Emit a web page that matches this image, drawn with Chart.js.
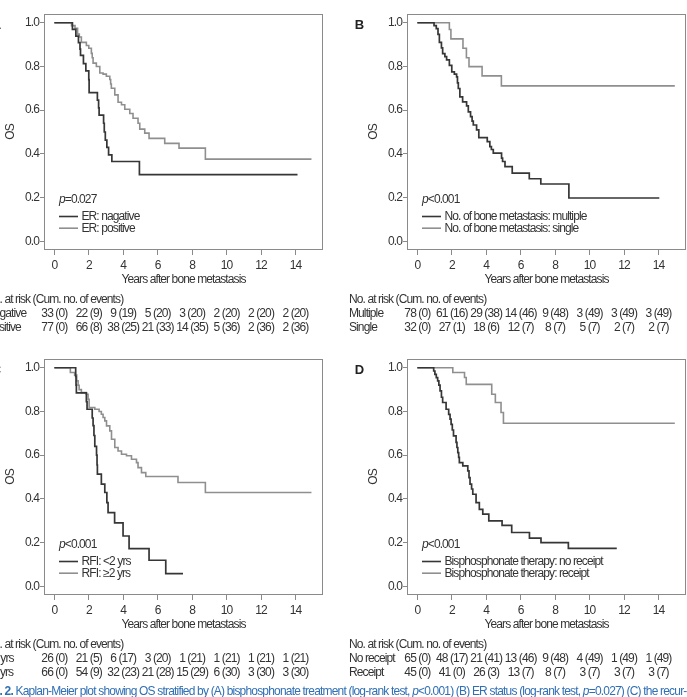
<!DOCTYPE html>
<html><head><meta charset="utf-8">
<script src="https://cdn.jsdelivr.net/npm/chart.js@4.4.0/dist/chart.umd.min.js"></script>
<style>
html,body{margin:0;padding:0;background:#fff;}
body{width:687px;height:697px;position:relative;overflow:hidden;}
canvas.panel{position:absolute;}
#caption{position:absolute;top:684px;left:0;white-space:nowrap;color:#2f6fb5;font-family:"Liberation Sans",Arial,sans-serif;font-size:12px;line-height:14px;letter-spacing:-0.8px;}
</style></head><body>
<canvas id="cA" class="panel" width="363" height="345" style="left:-20px;top:0px"></canvas>
<canvas id="cB" class="panel" width="363" height="345" style="left:343px;top:0px"></canvas>
<canvas id="cC" class="panel" width="363" height="345" style="left:-20px;top:345px"></canvas>
<canvas id="cD" class="panel" width="363" height="345" style="left:343px;top:345px"></canvas>
<div id="caption"><b><span id="capHide">Fig. </span>2.</b> Kaplan-Meier plot showing OS stratified by (A) bisphosphonate treatment (log-rank test, <i>p</i>&lt;0.001) (B) ER status (log-rank test, <i>p</i>=0.027) (C) the recur-</div>
<script>
// ---------- data ----------
const xTickValues = [0, 2, 4, 6, 8, 10, 12, 14];
const yTickValues = [0, 0.2, 0.4, 0.6, 0.8, 1.0];

// Panel A: ER status
const erNegTime = [0, 1.05, 1.25, 1.4, 1.49, 1.52, 1.69, 1.83, 2.0, 2.02, 2.5, 2.57, 2.6, 2.86, 2.9, 2.96, 3.05, 3.15, 3.34, 4.94, 14.12];
const erNegSurv = [1, 0.970, 0.939, 0.909, 0.879, 0.851, 0.813, 0.780, 0.74, 0.68, 0.646, 0.61, 0.577, 0.54, 0.50, 0.463, 0.43, 0.395, 0.365, 0.305, 0.305];
const erPosTime = [0, 1.0, 1.2, 1.35, 1.45, 1.57, 1.86, 2.0, 2.15, 2.2, 2.25, 2.44, 2.64, 2.83, 3.02, 3.22, 3.27, 3.31, 3.51, 3.7, 3.9, 4.09, 4.38, 4.57, 4.86, 4.96, 5.25, 5.5, 6.41, 7.24, 8.77, 14.93];
const erPosSurv = [1, 0.987, 0.974, 0.948, 0.935, 0.91, 0.896, 0.883, 0.86, 0.84, 0.815, 0.80, 0.77, 0.765, 0.755, 0.74, 0.72, 0.70, 0.67, 0.636, 0.625, 0.604, 0.585, 0.563, 0.54, 0.513, 0.495, 0.471, 0.448, 0.426, 0.376, 0.376];
const erNegRisk = ["33 (0)", "22 (9)", "9 (19)", "5 (20)", "3 (20)", "2 (20)", "2 (20)", "2 (20)"];
const erPosRisk = ["77 (0)", "66 (8)", "38 (25)", "21 (33)", "14 (35)", "5 (36)", "2 (36)", "2 (36)"];

// Panel B: number of bone metastases
const multTime = [0, 0.97, 1.1, 1.2, 1.28, 1.4, 1.47, 1.6, 1.7, 1.86, 2.0, 2.15, 2.28, 2.33, 2.38, 2.47, 2.63, 2.86, 2.96, 3.09, 3.18, 3.25, 3.44, 3.57, 4.06, 4.21, 4.3, 4.41, 4.89, 4.95, 5.09, 5.51, 6.5, 7.17, 8.8, 14.05];
const multSurv = [1, 0.987, 0.973, 0.947, 0.91, 0.885, 0.859, 0.845, 0.83, 0.805, 0.775, 0.765, 0.752, 0.725, 0.699, 0.661, 0.638, 0.62, 0.592, 0.57, 0.55, 0.532, 0.51, 0.474, 0.456, 0.433, 0.42, 0.403, 0.38, 0.365, 0.342, 0.312, 0.286, 0.262, 0.198, 0.198];
const singTime = [0, 1.86, 1.95, 2.65, 2.85, 3.0, 3.76, 4.88, 14.95];
const singSurv = [1, 0.969, 0.926, 0.883, 0.84, 0.799, 0.757, 0.711, 0.711];
const multRisk = ["78 (0)", "61 (16)", "29 (38)", "14 (46)", "9 (48)", "3 (49)", "3 (49)", "3 (49)"];
const singRisk = ["32 (0)", "27 (1)", "18 (6)", "12 (7)", "8 (7)", "5 (7)", "2 (7)", "2 (7)"];

// Panel C: recurrence-free interval
const rfiShortTime = [0, 1.24, 1.26, 1.28, 1.86, 1.9, 2.2, 2.25, 2.3, 2.35, 2.45, 2.48, 2.5, 2.73, 2.93, 3.05, 3.12, 3.5, 3.99, 4.34, 5.5, 6.47, 7.47];
const rfiShortSurv = [1, 0.96, 0.92, 0.885, 0.845, 0.81, 0.77, 0.735, 0.69, 0.64, 0.6, 0.555, 0.513, 0.467, 0.429, 0.383, 0.337, 0.29, 0.23, 0.172, 0.119, 0.058, 0.058];
const rfiLongTime = [0, 0.93, 1.18, 1.3, 1.38, 1.44, 1.57, 1.86, 1.96, 2.02, 2.35, 2.6, 2.73, 2.83, 2.93, 3.03, 3.22, 3.32, 3.51, 3.7, 3.9, 4.19, 4.48, 4.77, 4.86, 5.06, 5.31, 7.18, 8.77, 14.93];
const rfiLongSurv = [1, 0.978, 0.966, 0.94, 0.92, 0.90, 0.886, 0.879, 0.856, 0.818, 0.81, 0.80, 0.787, 0.772, 0.757, 0.734, 0.711, 0.673, 0.635, 0.619, 0.604, 0.597, 0.581, 0.566, 0.543, 0.52, 0.502, 0.475, 0.429, 0.429];
const rfiShortRisk = ["26 (0)", "21 (5)", "6 (17)", "3 (20)", "1 (21)", "1 (21)", "1 (21)", "1 (21)"];
const rfiLongRisk = ["66 (0)", "54 (9)", "32 (23)", "21 (28)", "15 (29)", "6 (30)", "3 (30)", "3 (30)"];

// Panel D: bisphosphonate therapy
const noRecTime = [0, 0.95, 1.02, 1.1, 1.18, 1.25, 1.32, 1.4, 1.47, 1.67, 1.82, 1.9, 1.96, 2.03, 2.1, 2.25, 2.3, 2.35, 2.4, 2.44, 2.64, 2.93, 3.0, 3.06, 3.15, 3.22, 3.41, 3.6, 3.8, 4.15, 4.92, 5.48, 6.51, 7.18, 8.77, 11.58];
const noRecSurv = [1, 0.985, 0.97, 0.955, 0.94, 0.92, 0.894, 0.865, 0.841, 0.81, 0.787, 0.765, 0.741, 0.715, 0.688, 0.658, 0.635, 0.612, 0.59, 0.566, 0.551, 0.528, 0.497, 0.467, 0.445, 0.421, 0.383, 0.352, 0.33, 0.299, 0.279, 0.246, 0.22, 0.2, 0.173, 0.173];
const recTime = [0, 2.06, 2.74, 2.84, 4.32, 4.53, 4.86, 5.0, 14.95];
const recSurv = [1, 0.978, 0.955, 0.924, 0.879, 0.841, 0.795, 0.746, 0.746];
const noRecRisk = ["65 (0)", "48 (17)", "21 (41)", "13 (46)", "9 (48)", "4 (49)", "1 (49)", "1 (49)"];
const recRisk = ["45 (0)", "41 (0)", "26 (3)", "13 (7)", "8 (7)", "3 (7)", "3 (7)", "3 (7)"];

// ---------- styling ----------
const FAM = '"Liberation Sans", Arial, sans-serif';
const SPACING = '-0.9px';
const TXT = '#333333';
const FRAME = '#8a8a8a';
const DARK = '#363636';
const LIGHT = '#8f8f8f';
Chart.defaults.font.family = FAM;
Chart.defaults.font.size = 12;
Chart.defaults.color = TXT;

function km(times, surv) { return times.map((t, i) => ({ x: t, y: surv[i] })); }

function condense(chart) { if (chart.ctx) chart.ctx.letterSpacing = SPACING; }

const panelPlugin = {
  id: 'kmDecor',
  beforeInit: condense,
  beforeUpdate: condense,
  beforeLayout: condense,
  beforeDraw: condense,
  afterDraw(chart) {
    const cfg = chart.options.plugins.kmDecor;
    const { ctx, chartArea: ca, scales } = chart;
    const x = scales.x;
    ctx.save();
    ctx.letterSpacing = SPACING;
    // frame
    ctx.strokeStyle = FRAME; ctx.lineWidth = 1;
    ctx.strokeRect(Math.round(ca.left) + 0.5, Math.round(ca.top) + 0.5, Math.round(ca.right - ca.left) - 1, Math.round(ca.bottom - ca.top) - 1);
    // panel letter
    ctx.fillStyle = '#222';
    ctx.font = 'bold 13px ' + FAM;
    ctx.textBaseline = 'middle'; ctx.textAlign = 'center';
    ctx.fillText(cfg.letter, ca.left - 48, ca.top + 11);
    // p-value
    ctx.textAlign = 'left';
    ctx.fillStyle = TXT;
    const px = ca.left + 15, py = ca.top + 186;
    ctx.font = 'italic 12px ' + FAM;
    ctx.fillText('p', px, py);
    const pw = ctx.measureText('p').width;
    ctx.font = '12px ' + FAM;
    ctx.fillText(cfg.pText, px + pw, py);
    // legend
    const cols = [DARK, LIGHT];
    cfg.legend.forEach((lab, i) => {
      const ly = ca.top + 202.5 + i * 11.7;
      ctx.strokeStyle = cols[i]; ctx.lineWidth = 1.6;
      ctx.beginPath(); ctx.moveTo(ca.left + 15, ly); ctx.lineTo(ca.left + 34, ly); ctx.stroke();
      ctx.fillStyle = TXT;
      ctx.fillText(lab, ca.left + 37.5, ly);
    });
    // risk table
    ctx.fillStyle = TXT;
    ctx.font = '12px ' + FAM;
    const lx = ca.left - 58;
    ctx.textAlign = 'left';
    ctx.fillText('No. at risk (Cum. no. of events)', lx, ca.top + 285.5);
    cfg.risk.forEach((row, r) => {
      const ry = ca.top + 300 + r * 14;
      ctx.textAlign = 'left';
      ctx.fillText(cfg.riskLabels[r], lx, ry);
      ctx.textAlign = 'center';
      row.forEach((s, k) => ctx.fillText(s, x.getPixelForValue(xTickValues[k]), ry));
    });
    ctx.restore();
  }
};

function makePanel(id, darkData, lightData, deco) {
  new Chart(document.getElementById(id), {
    type: 'line',
    data: {
      datasets: [
        { data: darkData, borderColor: DARK, borderWidth: 1.7, pointRadius: 0, stepped: true, fill: false },
        { data: lightData, borderColor: LIGHT, borderWidth: 1.6, pointRadius: 0, stepped: true, fill: false }
      ]
    },
    options: {
      responsive: false, animation: false, devicePixelRatio: 1,
      layout: { padding: { left: 0, right: 20, top: 14, bottom: 55 } },
      plugins: { legend: { display: false }, tooltip: { enabled: false }, kmDecor: deco },
      scales: {
        x: {
          type: 'linear', min: -0.6, max: 15.6,
          afterBuildTicks: s => { s.ticks = xTickValues.map(v => ({ value: v })); },
          afterFit: s => { s.height = 40; },
          grid: { display: true, drawOnChartArea: false, drawTicks: true, tickLength: 5, color: FRAME },
          border: { display: false },
          ticks: { color: TXT, padding: 3, autoSkip: false, maxRotation: 0, font: { size: 12 }, callback: v => String(v) },
          title: { display: true, text: 'Years after bone metastasis', color: TXT, font: { size: 12 }, padding: { top: 0, bottom: 3.3 } }
        },
        y: {
          type: 'linear', min: -0.04, max: 1.04,
          afterBuildTicks: s => { s.ticks = yTickValues.map(v => ({ value: v })); },
          afterFit: s => { s.width = 64; },
          grid: { display: true, drawOnChartArea: false, drawTicks: true, tickLength: 4, color: FRAME },
          border: { display: false },
          ticks: { color: TXT, padding: 1, autoSkip: false, font: { size: 12 }, callback: v => Number(v).toFixed(1) },
          title: { display: true, text: 'OS', color: TXT, font: { size: 12 }, padding: { top: 23, bottom: 0 } }
        }
      }
    },
    plugins: [panelPlugin]
  });
}

makePanel('cA', km(erNegTime, erNegSurv), km(erPosTime, erPosSurv),
  { letter: 'A', pText: '=0.027', legend: ['ER: nagative', 'ER: positive'], riskLabels: ['Negative', 'Positive'], risk: [erNegRisk, erPosRisk] });
makePanel('cB', km(multTime, multSurv), km(singTime, singSurv),
  { letter: 'B', pText: '<0.001', legend: ['No. of bone metastasis: multiple', 'No. of bone metastasis: single'], riskLabels: ['Multiple', 'Single'], risk: [multRisk, singRisk] });
makePanel('cC', km(rfiShortTime, rfiShortSurv), km(rfiLongTime, rfiLongSurv),
  { letter: 'C', pText: '<0.001', legend: ['RFI: <2 yrs', 'RFI: \u22652 yrs'], riskLabels: ['<2 yrs', '\u22652 yrs'], risk: [rfiShortRisk, rfiLongRisk] });
makePanel('cD', km(noRecTime, noRecSurv), km(recTime, recSurv),
  { letter: 'D', pText: '<0.001', legend: ['Bisphosphonate therapy: no receipt', 'Bisphosphonate therapy: receipt'], riskLabels: ['No receipt', 'Receipt'], risk: [noRecRisk, recRisk] });

// caption: fit so that "2." starts near x=5 and the line ends at the right edge
(function fitCaption() {
  const cap = document.getElementById('caption');
  const hide = document.getElementById('capHide');
  let fs = 12;
  for (let i = 0; i < 4; i++) {
    cap.style.fontSize = fs + 'px';
    const vis = cap.scrollWidth - hide.offsetWidth;
    fs = fs * 681 / vis;
  }
  cap.style.fontSize = fs + 'px';
  cap.style.left = (5 - hide.offsetWidth) + 'px';
})();
</script>
</body></html>
